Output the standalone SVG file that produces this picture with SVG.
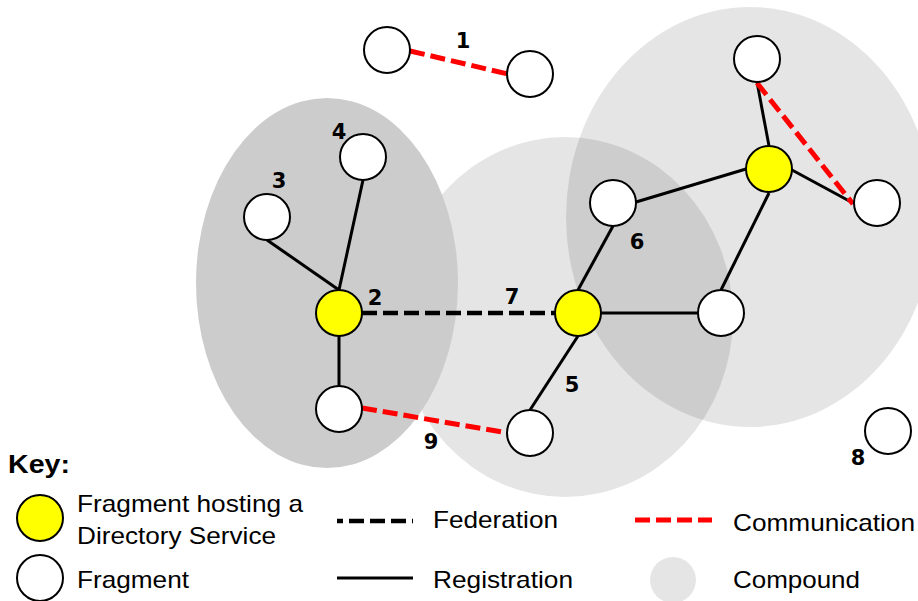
<svg xmlns="http://www.w3.org/2000/svg" width="918" height="601" viewBox="0 0 918 601">
<style>
.frag{fill:#ffffff;stroke:#000;stroke-width:2}
.ds{fill:#ffff00;stroke:#000;stroke-width:2}
.reg{stroke:#000;stroke-width:3;fill:none}
.fed{stroke:#000;stroke-width:4.5;stroke-dasharray:15 6;fill:none}
.com{stroke:#ff0000;stroke-width:5;stroke-dasharray:15 6;fill:none}
.lbl{font-family:"DejaVu Sans",Verdana,sans-serif;font-weight:bold;font-size:21px;text-anchor:middle;fill:#000}
.key{font-family:"Liberation Sans",Arial,sans-serif;font-size:24px;fill:#000}
</style>
<rect width="918" height="601" fill="#ffffff"/>
<g id="compounds">
<ellipse id="compound-right" cx="750" cy="217" rx="184" ry="210" fill="#000" fill-opacity="0.1"/>
<ellipse id="compound-middle" cx="565" cy="317" rx="168" ry="180" fill="#000" fill-opacity="0.1"/>
<ellipse id="compound-left" cx="327" cy="283" rx="131" ry="185" fill="#cccccc"/>
</g>
<g id="connectors">
<line class="reg" x1="339" y1="290" x2="363" y2="180"/>
<line class="reg" x1="267" y1="240" x2="339" y2="290"/>
<line class="reg" x1="339" y1="336" x2="339" y2="386"/>
<line class="fed" x1="362" y1="313" x2="555" y2="313"/>
<line class="reg" x1="578" y1="290" x2="613" y2="226"/>
<line class="reg" x1="578" y1="336" x2="530" y2="410"/>
<line class="reg" x1="601" y1="313" x2="698" y2="313"/>
<line class="reg" x1="636" y1="202" x2="746" y2="169"/>
<line class="reg" x1="769" y1="146" x2="757" y2="82"/>
<line class="reg" x1="792" y1="170" x2="853" y2="203"/>
<line class="reg" x1="769" y1="193" x2="721" y2="290"/>
<line class="com" x1="410" y1="51" x2="508" y2="74"/>
<line class="com" x1="362" y1="408" x2="508" y2="433"/>
<line class="com" x1="757" y1="83" x2="853" y2="204"/>
</g>
<g id="node-1a"><circle class="frag" cx="387" cy="50" r="23"/></g>
<g id="node-1b"><circle class="frag" cx="530" cy="74" r="23"/></g>
<g id="node-4"><circle class="frag" cx="363" cy="157" r="23"/></g>
<g id="node-3"><circle class="frag" cx="267" cy="217" r="23"/></g>
<g id="node-2"><circle class="ds" cx="339" cy="313" r="23"/></g>
<g id="node-2b"><circle class="frag" cx="339" cy="409" r="23"/></g>
<g id="node-7"><circle class="ds" cx="578" cy="313" r="23"/></g>
<g id="node-6"><circle class="frag" cx="613" cy="203" r="23"/></g>
<g id="node-5"><circle class="frag" cx="530" cy="433" r="23"/></g>
<g id="node-7b"><circle class="frag" cx="721" cy="313" r="23"/></g>
<g id="node-tr-ds"><circle class="ds" cx="769" cy="169" r="23"/></g>
<g id="node-tr-top"><circle class="frag" cx="757" cy="59" r="23"/></g>
<g id="node-tr-right"><circle class="frag" cx="877" cy="203" r="23"/></g>
<g id="node-8"><circle class="frag" cx="888" cy="431" r="23"/></g>
<g id="labels">
<text class="lbl" x="463" y="48">1</text>
<text class="lbl" x="339" y="139">4</text>
<text class="lbl" x="279" y="188">3</text>
<text class="lbl" x="375" y="305">2</text>
<text class="lbl" x="512" y="304">7</text>
<text class="lbl" x="637" y="249">6</text>
<text class="lbl" x="572" y="392">5</text>
<text class="lbl" x="431" y="449">9</text>
<text class="lbl" x="858" y="465">8</text>
</g>
<g id="legend">
<text x="8" y="473" font-family="'Liberation Sans',Arial,sans-serif" font-weight="bold" font-size="26" textLength="62" lengthAdjust="spacingAndGlyphs">Key:</text>
<circle class="ds" cx="40" cy="518" r="23"/>
<text class="key" x="77" y="512" textLength="226" lengthAdjust="spacingAndGlyphs">Fragment hosting a</text>
<text class="key" x="77" y="544" textLength="199" lengthAdjust="spacingAndGlyphs">Directory Service</text>
<circle class="frag" cx="40" cy="578" r="23"/>
<text class="key" x="77" y="588" textLength="112" lengthAdjust="spacingAndGlyphs">Fragment</text>
<line class="fed" x1="337" y1="521" x2="413" y2="521" stroke-dashoffset="9"/>
<text class="key" x="433" y="528" textLength="125" lengthAdjust="spacingAndGlyphs">Federation</text>
<line class="reg" x1="337" y1="578" x2="413" y2="578"/>
<text class="key" x="433" y="588" textLength="140" lengthAdjust="spacingAndGlyphs">Registration</text>
<line class="com" x1="635" y1="520" x2="712" y2="520"/>
<text class="key" x="733" y="531" textLength="182" lengthAdjust="spacingAndGlyphs">Communication</text>
<circle cx="673" cy="580" r="23" fill="#000" fill-opacity="0.1"/>
<text class="key" x="733" y="588" textLength="127" lengthAdjust="spacingAndGlyphs">Compound</text>
</g>
</svg>
